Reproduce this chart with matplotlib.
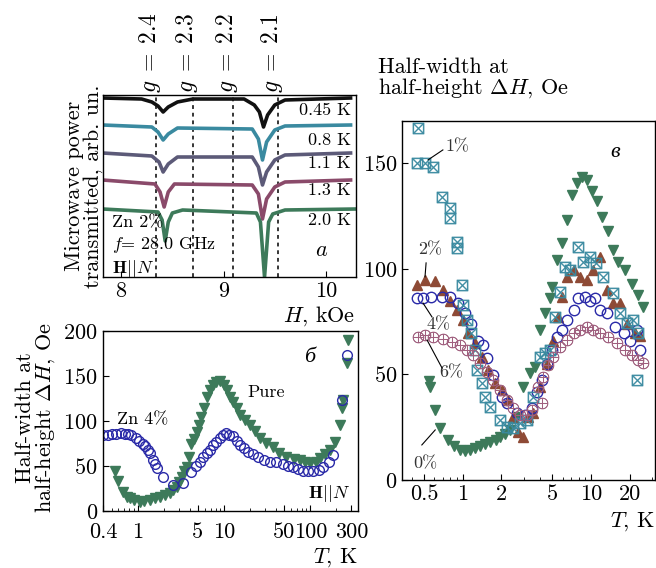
import matplotlib
matplotlib.use("Agg")
import matplotlib.pyplot as plt
import numpy as np
from matplotlib.ticker import FixedLocator, NullFormatter, LogLocator

plt.rcParams['font.family'] = ['cmr10', 'DejaVu Serif']
plt.rcParams['mathtext.fontset'] = 'cm'
plt.rcParams['axes.formatter.use_mathtext'] = True
plt.rcParams['axes.linewidth'] = 1.0

# ---------- panel a: spectra (H in kOe, signal in arb. un.) ----------
g_values = ["2.4", "2.3", "2.2", "2.1"]
g_fields = [8.34, 8.70, 9.09, 9.53]
temps_a = ["0.45 K", "0.8 K", "1.1 K", "1.3 K", "2.0 K"]
colors_a = ["#111111", "#3a8aa0", "#5c5a78", "#8a4a6a", "#3d7a5a"]

h_045 = [7.82, 8.20, 8.30, 8.36, 8.41, 8.46, 8.55, 8.70, 9.20, 9.30, 9.35, 9.39, 9.43, 9.50, 9.60, 10.24]
s_045 = [179, 178, 175, 171, 165, 170, 175, 178, 178, 172, 165, 150, 162, 172, 177, 179]
h_08 = [7.82, 8.30, 8.36, 8.41, 8.46, 8.55, 9.28, 9.34, 9.38, 9.42, 9.50, 9.60, 10.24]
s_08 = [152, 150, 145, 137, 143, 149, 148, 138, 117, 135, 147, 151, 152]
h_11 = [7.82, 8.30, 8.37, 8.41, 8.46, 8.55, 9.28, 9.34, 9.38, 9.42, 9.50, 9.60, 10.24]
s_11 = [124, 121, 115, 105, 113, 120, 120, 110, 92, 105, 117, 122, 124]
h_13 = [7.82, 8.33, 8.38, 8.42, 8.46, 8.52, 9.28, 9.34, 9.38, 9.42, 9.50, 9.60, 10.24]
s_13 = [97, 93, 85, 70, 85, 93, 92, 83, 58, 78, 90, 95, 97]
h_20 = [7.82, 8.36, 8.40, 8.43, 8.46, 8.50, 8.60, 9.32, 9.36, 9.40, 9.44, 9.48, 9.60, 10.29]
s_20 = [68, 65, 57, 36, 55, 64, 67, 64, 55, 0, 55, 63, 67, 68]
spectra_h = [h_045, h_08, h_11, h_13, h_20]
spectra_s = [s_045, s_08, s_11, s_13, s_20]
label_y_a = [167, 137, 114, 87, 57]

# ---------- panel b: half-width vs T ----------
T_zn4_b = [0.40, 0.45, 0.50, 0.57, 0.65, 0.72, 0.77, 0.85, 0.97, 1.05, 1.15, 1.22, 1.32, 1.40, 1.50, 1.58, 1.66,
           1.97, 2.57, 3.36, 4.2, 4.8, 5.3, 5.8, 6.3, 6.9, 7.5, 8.2, 9.0, 9.8, 10.7, 11.6, 12.7, 14.0, 15.3, 17.0,
           19.1, 21.5, 24.8, 29, 34, 40, 48, 55, 63, 72, 82, 95, 107, 125, 140, 165, 184, 230, 265]
dH_zn4_b = [84, 85, 86, 86, 87, 86, 86, 84, 81, 78, 75, 72, 68, 64, 57, 52, 48,
            38, 29, 31, 43, 50, 55, 60, 64, 68, 73, 77, 81, 84, 87, 85, 83, 78, 73, 70,
            66, 63, 60, 57, 55, 54, 52, 50, 49, 47, 45, 45, 44, 46, 49, 55, 62, 123, 173]
T_pure_b = [0.55, 0.60, 0.68, 0.75, 0.81, 0.92, 1.06, 1.2, 1.39, 1.6, 1.81, 2.1, 2.37, 2.6, 2.83, 3.0, 3.23, 3.45,
            3.69, 3.95, 4.2, 4.5, 4.83, 5.2, 5.5, 5.9, 6.3, 6.9, 7.5, 8.2, 9.0, 9.9, 10.8, 11.8, 12.8, 14.0, 15.3,
            17.5, 20, 23, 26, 31, 37, 44, 53, 64, 76, 88, 99, 115, 130, 150, 170, 193, 220, 230, 240, 264, 270]
dH_pure_b = [45, 33, 21, 16, 14, 12, 10, 11, 12, 14, 16, 18, 20, 23, 27, 32, 38, 44,
             49, 60, 75, 80, 88, 96, 105, 115, 127, 135, 140, 143, 144, 140, 134, 127, 121, 114, 107,
             101, 96, 89, 81, 76, 71, 65, 60, 58, 57, 55, 53, 55, 59, 63, 68, 77, 96, 114, 123, 164, 190]

# ---------- panel v: half-width vs T for Zn content ----------
T_0 = [0.55, 0.556, 0.61, 0.665, 0.77, 0.86, 0.95, 1.04, 1.14, 1.25, 1.36, 1.5, 1.63, 1.8, 1.95, 2.15, 2.34, 2.63,
       2.96, 3.35, 3.66, 4.0, 4.37, 4.78, 4.94, 5.4, 5.9, 6.45, 7.07, 7.74, 8.45, 9.25, 10.1, 11.1, 12.1, 13.6,
       14.9, 16.3, 18.4, 20.8, 23.4, 25.6]
dH_0 = [47, 44, 33, 24.5, 19, 16, 14, 13.5, 14, 15, 16, 17, 18, 19, 20.5, 22, 23.7, 30,
        44, 50.5, 53.7, 71, 79, 86, 91.6, 104, 112, 123, 135, 140.5, 143.7, 142, 137, 132, 124.7, 118,
        109, 103, 99.5, 93, 87.6, 82]
T_1 = [0.45, 0.438, 0.508, 0.59, 0.686, 0.796, 0.796, 0.9, 0.9, 0.982, 1.01, 1.07, 1.17, 1.25, 1.29, 1.41, 1.49,
       1.63, 1.95, 2.2, 2.48, 2.8, 3.15, 3.55, 4.0, 4.37, 4.78, 5.24, 5.73, 6.26, 6.85, 7.94, 8.72, 9.8, 11.0,
       12.5, 14.9, 16.8, 19.0, 21.3, 22.7, 23.4]
dH_1 = [166.6, 150.3, 150, 148.4, 134.2, 128.7, 124, 112.9, 110, 92.4, 82.9, 75.8, 69.5, 61.6, 52, 45.8, 39.5,
        34.7, 28.4, 25.2, 24.5, 26.9, 28.4, 39.5, 58.4, 60, 61.6, 77.4, 89.2, 101, 99.5, 110.5, 103.4, 105.8, 102.6,
        96.3, 88.4, 79, 74.2, 75.8, 47.4, 69.5]
T_2 = [0.438, 0.508, 0.61, 0.706, 0.796, 0.9, 1.01, 1.1, 1.25, 1.41, 1.58, 1.79, 2.01, 2.27, 2.48, 2.71, 2.96,
       3.25, 3.55, 4.0, 4.5, 5.08, 5.56, 5.9, 6.45, 7.3, 8.2, 9.25, 10.4, 11.7, 13.3, 14.9, 16.8, 19.0, 22.0, 24.0]
dH_2 = [92.4, 94.7, 94, 90, 85, 80.5, 76, 69.5, 64.7, 58.4, 52, 45.8, 42.6, 37.9, 30, 22.9, 20.5,
        30, 31.6, 44, 55, 66, 77, 86.8, 96, 99.5, 96, 94.7, 99.5, 105.8, 90, 83.7, 83.7, 74, 69.5, 68]
T_4 = [0.438, 0.493, 0.57, 0.685, 0.796, 0.924, 1.04, 1.17, 1.32, 1.45, 1.54, 1.73, 2.01, 2.2, 2.63, 3.06, 3.45,
       3.77, 4.13, 4.5, 4.94, 5.4, 5.9, 6.45, 7.3, 7.94, 8.96, 9.8, 10.7, 11.7, 13.3, 15.4, 17.9, 20.2, 22.7, 24.0]
dH_4 = [86, 86, 86.8, 86.8, 86.8, 83.7, 79, 74, 66, 64, 57.6, 49.7, 39.5, 36.3, 31.6, 30.8, 34,
        41.8, 47.4, 55, 61.6, 67.9, 71, 75.8, 80.5, 86, 86.8, 85, 86, 80.5, 79, 72.6, 69.5, 66, 71, 61.6]
T_6 = [0.45, 0.508, 0.59, 0.706, 0.82, 0.95, 1.07, 1.21, 1.36, 1.54, 1.73, 1.95, 2.2, 2.48, 2.8, 3.15, 3.45,
       3.88, 4.13, 4.25, 4.65, 5.08, 5.73, 6.45, 7.3, 8.2, 9.25, 10.4, 11.7, 13.6, 15.8, 18.4, 20.8, 23.4, 25.6]
dH_6 = [67.9, 68.7, 67.9, 66.6, 65.5, 64, 61.6, 59.2, 55.3, 51.3, 47.4, 42.6, 37.9, 34, 30.8, 30.8, 33.2,
        44.2, 36.3, 49, 54.5, 58.4, 63.2, 66.3, 69.5, 71, 72.6, 71, 69.5, 67.9, 64.7, 61.6, 59.2, 56.8, 55.3]

green = "#3d7a5a"
brown = "#8e4a35"
blue = "#2a2aa8"
teal = "#3a8aa0"
pink = "#a0607f"

fig = plt.figure(figsize=(6.56, 5.68), dpi=100)
W, H = 656.0, 568.0


def axes_px(left, top, right, bottom):
    return fig.add_axes([left / W, 1 - bottom / H, (right - left) / W, (bottom - top) / H])


fs_tick = 16
fs_lab = 16
fs_note = 13

# ---------------- panel a ----------------
ax_a = axes_px(102.7, 95, 355.7, 277)
for hh, ss, c in zip(spectra_h, spectra_s, colors_a):
    ax_a.plot(hh, ss, color=c, lw=2.6, solid_joinstyle='round')
for hg, gl in zip(g_fields, g_values):
    ax_a.axvline(hg, color='black', ls=(0, (2.5, 2.5)), lw=1.1, zorder=0)
    ax_a.text(hg - 0.06, 1.01, r'$g\;=\;%s$' % gl, transform=ax_a.get_xaxis_transform(),
              rotation=90, ha='center', va='bottom', fontsize=17)
for t, yy in zip(temps_a, label_y_a):
    ax_a.text(10.24, yy, t, ha='right', va='center', fontsize=fs_note)
ax_a.text(7.91, 54, 'Zn 2%', fontsize=fs_note, va='center')
ax_a.text(7.91, 32, r'$f$= 28.0 GHz', fontsize=fs_note, va='center')
ax_a.text(7.91, 9, r'$\mathbf{H}||N$', fontsize=fs_note, va='center')
ax_a.text(9.96, 27, r'$a$', fontsize=fs_lab, ha='center', va='center')
ax_a.set_xlim(7.82, 10.29)
ax_a.set_ylim(0, 182)
ax_a.set_xticks([8, 9, 10])
ax_a.set_xticklabels(['8', '9', '10'])
ax_a.set_yticks([])
ax_a.tick_params(direction='in', labelsize=fs_tick, length=4)
ax_a.set_ylabel('Microwave power\ntransmitted, arb. un.', fontsize=fs_lab, linespacing=0.9)
ax_a.yaxis.set_label_coords(0.0, 0.5)
ax_a.text(1.0, -0.215, r'$H$, kOe', transform=ax_a.transAxes, ha='right', va='center', fontsize=fs_lab)

# ---------------- panel b ----------------
ax_b = axes_px(102.7, 331, 358, 511)
ax_b.plot(T_pure_b, dH_pure_b, ls='none', marker='v', ms=7, color=green, mec=green)
ax_b.plot(T_zn4_b, dH_zn4_b, ls='none', marker='o', ms=7, mfc='none', mec=blue, mew=1.0)
ax_b.set_xscale('log')
ax_b.set_xlim(0.395, 357)
ax_b.set_ylim(0, 200)
ax_b.xaxis.set_major_locator(FixedLocator([0.4, 1, 5, 10, 50, 100, 300]))
ax_b.set_xticklabels(['0.4', '1', '5', '10', '50', '100', '300'])
ax_b.xaxis.set_minor_locator(LogLocator(base=10, subs=np.arange(2, 10)))
ax_b.xaxis.set_minor_formatter(NullFormatter())
ax_b.set_yticks([0, 50, 100, 150, 200])
ax_b.tick_params(which='both', direction='in', labelsize=fs_tick)
ax_b.tick_params(which='major', length=4)
ax_b.tick_params(which='minor', length=2)
ax_b.tick_params(axis='x', pad=8)
ax_b.set_ylabel('Half-width at\nhalf-height $\\Delta H$, Oe', fontsize=fs_lab, linespacing=0.9)
ax_b.yaxis.set_label_coords(-0.18, 0.52)
ax_b.text(0.576, 101, 'Zn 4%', fontsize=fs_note, va='center')
ax_b.text(18.5, 132, 'Pure', fontsize=fs_note, va='center')
ax_b.text(99, 171, 'б', fontsize=fs_lab, style='italic', family='Liberation Serif', ha='center', va='center')
ax_b.text(288, 20, r'$\mathbf{H}||N$', fontsize=fs_note, ha='right', va='center')
ax_b.text(1.0, -0.26, r'$T$, K', transform=ax_b.transAxes, ha='right', va='center', fontsize=fs_lab)

# ---------------- panel v ----------------
ax_v = axes_px(402.3, 121, 655, 480)
ax_v.plot(T_0, dH_0, ls='none', marker='v', ms=7.5, color=green, mec=green, zorder=2)
ax_v.plot(T_2, dH_2, ls='none', marker='^', ms=7.5, color=brown, mec=brown, zorder=3)
ax_v.plot(T_4, dH_4, ls='none', marker='o', ms=7.5, mfc='none', mec=blue, mew=1.0, zorder=4)
ax_v.plot(T_1, dH_1, ls='none', marker='$\\boxtimes$', ms=8, color=teal, mew=0.4, zorder=5)
ax_v.plot(T_6, dH_6, ls='none', marker='$\\oplus$', ms=8, color=pink, mew=0.4, zorder=6)
ax_v.set_xscale('log')
ax_v.set_xlim(0.338, 31.5)
ax_v.set_ylim(0, 170)
ax_v.xaxis.set_major_locator(FixedLocator([0.5, 1, 2, 5, 10, 20]))
ax_v.set_xticklabels(['0.5', '1', '2', '5', '10', '20'])
ax_v.xaxis.set_minor_locator(LogLocator(base=10, subs=np.arange(2, 10)))
ax_v.xaxis.set_minor_formatter(NullFormatter())
ax_v.set_yticks([0, 50, 100, 150])
ax_v.tick_params(which='both', direction='in', labelsize=fs_tick)
ax_v.tick_params(which='major', length=4)
ax_v.tick_params(which='minor', length=2)
ax_v.text(1.0, -0.115, r'$T$, K', transform=ax_v.transAxes, ha='right', va='center', fontsize=fs_lab)
fig.text(378 / W, 1 - 57 / H, 'Half-width at\nhalf-height $\\Delta H$, Oe', ha='left', va='top',
         fontsize=fs_lab, linespacing=1.0)
ax_v.text(15.4, 155, 'в', fontsize=fs_lab, style='italic', family='Liberation Serif', ha='center', va='center')

notes_v = ['1%', '2%', '4%', '6%', '0%']
note_xy = [(0.735, 157.7), (0.556, 109), (0.642, 73.4), (0.81, 50.7), (0.508, 8)]
note_ha = ['left', 'center', 'center', 'center', 'center']
line_from = [(0.70, 156.3), (0.518, 102.8), (0.576, 77.2), (0.69, 53), (0.61, 23.7)]
line_to = [(0.537, 151.6), (0.508, 96.2), (0.49, 83.8), (0.527, 66.3), (0.48, 16.6)]
for n, xy, ha, p0, p1 in zip(notes_v, note_xy, note_ha, line_from, line_to):
    ax_v.text(xy[0], xy[1], n, fontsize=fs_note, ha=ha, va='center', color='#333333')
    ax_v.plot([p0[0], p1[0]], [p0[1], p1[1]], color='black', lw=0.8, zorder=7)

fig.savefig('out.png', dpi=100)
